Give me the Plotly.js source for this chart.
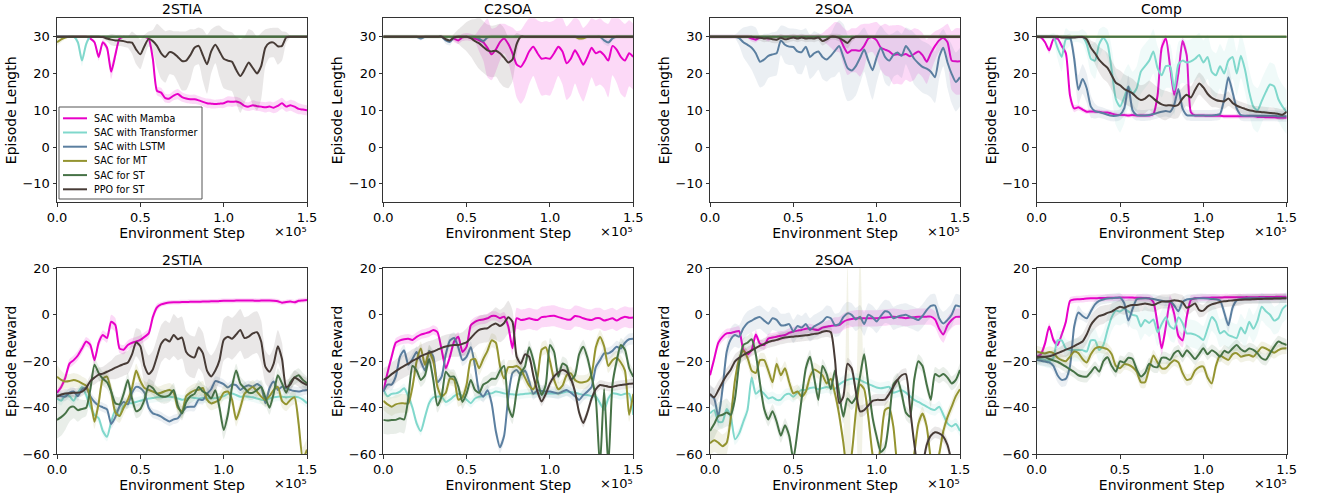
<!DOCTYPE html>
<html><head><meta charset="utf-8">
<script src="https://cdn.plot.ly/plotly-3.0.1.min.js"></script>
<style>html,body{margin:0;padding:0;background:#fff;}#chart{width:1322px;height:497px;}</style>
</head><body><div id="chart"></div>
<script>
// ---------- shared data ----------
const steps = [0,0.025,0.05,0.075,0.1,0.125,0.15,0.175,0.2,0.225,
 0.25,0.275,0.3,0.325,0.35,0.375,0.4,0.425,0.45,0.475,
 0.5,0.525,0.55,0.575,0.6,0.625,0.65,0.675,0.7,0.725,
 0.75,0.775,0.8,0.825,0.85,0.875,0.9,0.925,0.95,0.975,
 1,1.025,1.05,1.075,1.1,1.125,1.15,1.175,1.2,1.225,
 1.25,1.275,1.3,1.325,1.35,1.375,1.4,1.425,1.45,1.475,
 1.5];
const seriesNames = ['SAC with Mamba','SAC with Transformer','SAC with LSTM','SAC for MT','SAC for ST','PPO for ST'];
const seriesColors = ['#e800c8','#80d8cc','#5b7fa0','#949430','#467246','#473b36'];
const panelTitles = ['2STIA','C2SOA','2SOA','Comp'];
const xTickVals = [0,0.5,1.0,1.5];
const xTickText = ['0.0','0.5','1.0','1.5'];
const lenTicks = [-10,0,10,20,30];
const rewTicks = [-60,-40,-20,0,20];
const lenRange = [-15,35];
const rewRange = [-60,20];

// ---------- Episode Length : 2STIA ----------
const len_2STIA_mamba = [30,30,30,30,30,30,30,30,29.5,28.5,
 24.5,28.5,27,20.5,25,29.5,30,30,30,30,
 30,30,29.5,24,15.3,14.8,13.3,13.2,14,14.4,
 13.6,13.2,13,13,12.7,12.3,11.9,11.8,11.7,11.8,
 11.9,12.4,12.3,12.4,12,11.2,11,11.4,11.1,11,
 10.8,11,10.7,11.2,11.9,11,11.4,11,10.4,10.2,
 10];
const len_2STIA_mamba_sd = [0.3,0.3,0.3,0.3,0.3,0.3,0.3,0.3,0.3,0.5,
 1,0.8,1,2,1.5,0.3,0.3,0.3,0.3,0.3,
 0.3,0.3,0.5,1.5,1.2,1.3,1.2,1.2,1.3,1.4,
 1.3,1.2,1.2,1.3,1.2,1.2,1.3,1.3,1.2,1.2,
 1.3,1.4,1.4,1.3,1.3,1.2,1.2,1.3,1.3,1.3,
 1.4,1.4,1.5,1.6,1.5,1.4,1.5,1.6,1.5,1.4,
 1.4];
const len_2STIA_trans = [30,30,30,30,30,28.5,23.5,28,30,30,
 30,30,30,30,30,30,30,30,30,30,
 30,30,30,30,30,30,30,30,30,30,
 30,30,30,30,30,30,30,30,30,30,
 30,30,30,30,30,30,30,30,30,30,
 30,30,30,30,30,30,30,30,30,30,
 30];
const len_2STIA_trans_sd = [0.3,0.3,0.3,0.3,0.3,1,1.5,1,0.3,0.3,
 0.3,0.3,0.3,0.3,0.3,0.3,0.3,0.3,0.3,0.3,
 0.3,0.3,0.3,0.3,0.3,0.3,0.3,0.3,0.3,0.3,
 0.3,0.3,0.3,0.3,0.3,0.3,0.3,0.3,0.3,0.3,
 0.3,0.3,0.3,0.3,0.3,0.3,0.3,0.3,0.3,0.3,
 0.3,0.3,0.3,0.3,0.3,0.3,0.3,0.3,0.3,0.3,
 0.3];
const len_2STIA_lstm = [30,30,30,30,30,30,30,30,30,30,
 30,30,30,30,30,30,30,30,30,30,
 30,30,30,30,30,30,30,30,30,30,
 30,30,30,30,30,30,30,30,30,30,
 30,30,30,30,30,30,30,30,30,30,
 30,30,30,30,30,30,30,30,30,30,
 30];
const len_2STIA_lstm_sd = [0.3,0.3,0.3,0.3,0.3,0.3,0.3,0.3,0.3,0.3,
 0.3,0.3,0.3,0.3,0.3,0.3,0.3,0.3,0.3,0.3,
 0.3,0.3,0.3,0.3,0.3,0.3,0.3,0.3,0.3,0.3,
 0.3,0.3,0.3,0.3,0.3,0.3,0.3,0.3,0.3,0.3,
 0.3,0.3,0.3,0.3,0.3,0.3,0.3,0.3,0.3,0.3,
 0.3,0.3,0.3,0.3,0.3,0.3,0.3,0.3,0.3,0.3,
 0.3];
const len_2STIA_mt = [28.5,29.3,29.8,30,30,30,30,30,30,30,
 30,30,30,30,30,30,30,30,30,30,
 30,30,30,30,30,30,30,30,30,30,
 30,30,30,30,30,30,30,30,30,30,
 30,30,30,30,30,30,30,30,30,30,
 30,30,30,30,30,30,30,30,30,30,
 30];
const len_2STIA_mt_sd = [1,0.8,0.5,0.3,0.3,0.3,0.3,0.3,0.3,0.3,
 0.3,0.3,0.3,0.3,0.3,0.3,0.3,0.3,0.3,0.3,
 0.3,0.3,0.3,0.3,0.3,0.3,0.3,0.3,0.3,0.3,
 0.3,0.3,0.3,0.3,0.3,0.3,0.3,0.3,0.3,0.3,
 0.3,0.3,0.3,0.3,0.3,0.3,0.3,0.3,0.3,0.3,
 0.3,0.3,0.3,0.3,0.3,0.3,0.3,0.3,0.3,0.3,
 0.3];
const len_2STIA_st = [30,30,30,30,30,30,30,30,30,30,
 30,30,30,30,30,30,30,30,30,30,
 30,30,30,30,30,30,30,30,30,30,
 30,30,30,30,30,30,30,30,30,30,
 30,30,30,30,30,30,30,30,30,30,
 30,30,30,30,30,30,30,30,30,30,
 30];
const len_2STIA_st_sd = [0.3,0.3,0.3,0.3,0.3,0.3,0.3,0.3,0.3,0.3,
 0.3,0.3,0.3,0.3,0.3,0.3,0.3,0.3,0.3,0.3,
 0.3,0.3,0.3,0.3,0.3,0.3,0.3,0.3,0.3,0.3,
 0.3,0.3,0.3,0.3,0.3,0.3,0.3,0.3,0.3,0.3,
 0.3,0.3,0.3,0.3,0.3,0.3,0.3,0.3,0.3,0.3,
 0.3,0.3,0.3,0.3,0.3,0.3,0.3,0.3,0.3,0.3,
 0.3];
const len_2STIA_ppo = [30,30,30,30,30,30,30,30,30,30,
 30,29.9,29.5,29.2,29,29,28.8,28.5,28.4,26.5,
 25.2,27.5,29.4,28.8,27.5,25.5,24.5,25.8,25.5,24.5,
 23.4,23.5,25,27,27.5,25,22.5,26,27.8,26,
 24,23.5,23.2,21,19.3,21,23,21.5,20,22,
 27,28.3,28.4,27.4,27.5,29.8,30,30,30,30,
 30];
const len_2STIA_ppo_sd = [0.3,0.3,0.3,0.3,0.3,0.3,0.3,0.3,0.3,0.3,
 0.3,0.5,0.8,1.5,1.5,1.5,1.5,1.5,3,4,
 4,3,2,3,6,7,7,6,6,7,
 8,8,7,5,5,7,8,6,5,7,
 8,8,8,9,10,9,9,10,10,9,
 5,4,4,5,4,1.5,0.3,0.3,0.3,0.3,
 0.3];

// ---------- Episode Length : C2SOA ----------
const len_C2SOA_mamba = [30,30,30,30,30,30,30,30,30,30,
 30,30,30,30,30,30,30,29.5,29,29.8,
 30,29.8,29.5,29,28.5,27,25.2,26.5,28.5,29.5,
 28,25.5,22.5,21.8,23.5,26,27.3,25.5,24,24.2,
 24,25.5,27.3,26,22.8,24,26.3,24.5,22.4,24.5,
 27,25.5,26,25,23.5,27.5,26.5,24.5,23.5,25.5,
 24.5];
const len_C2SOA_mamba_sd = [0.3,0.3,0.3,0.3,0.3,0.3,0.3,0.3,0.3,0.3,
 0.3,0.3,0.3,0.3,0.3,0.3,0.3,1,1,1,
 1,1,1,3,5,8,7,6,5,4,
 5,7,9,10,10,9,8,9,10,10,
 10,9,8,9,10,10,9,10,10,9,
 8,9,9,9,10,8,9,10,10,9,
 9];
const len_C2SOA_trans = [30,30,30,30,30,30,30,30,30,30,
 30,30,30,30,30,30,30,30,30,30,
 30,30,30,30,30,30,30,30,30,30,
 30,30,30,30,30,30,30,30,30,30,
 30,30,30,30,30,30,30,30,30,30,
 30,30,30,30,30,30,30,30,30,30,
 30];
const len_C2SOA_trans_sd = [0.3,0.3,0.3,0.3,0.3,0.3,0.3,0.3,0.3,0.3,
 0.3,0.3,0.3,0.3,0.3,0.3,0.3,0.3,0.3,0.3,
 0.3,0.3,0.3,0.3,0.3,0.3,0.3,0.3,0.3,0.3,
 0.3,0.3,0.3,0.3,0.3,0.3,0.3,0.3,0.3,0.3,
 0.3,0.3,0.3,0.3,0.3,0.3,0.3,0.3,0.3,0.3,
 0.3,0.3,0.3,0.3,0.3,0.3,0.3,0.3,0.3,0.3,
 0.3];
const len_C2SOA_lstm = [30,30,30,30,30,30,30,30,30,29.5,
 30,30,30,30,30,29,28.6,29.8,30,30,
 30,30,30,29.5,28.8,29.8,30,30,30,30,
 30,30,30,30,30,30,30,30,30,30,
 30,30,30,30,30,30,30,30,30,30,
 30,30,30,29,28.4,29.5,30,30,30,30,
 30];
const len_C2SOA_lstm_sd = [0.5,0.5,0.5,0.5,0.5,0.5,0.5,0.5,0.5,0.5,
 0.5,0.5,0.5,0.5,0.5,1,1,0.5,0.5,0.5,
 0.5,0.5,0.5,1,1,0.5,0.5,0.5,0.5,0.5,
 0.5,0.5,0.5,0.5,0.5,0.5,0.5,0.5,0.5,0.5,
 0.5,0.5,0.5,0.5,0.5,0.5,0.5,0.5,0.5,0.5,
 0.5,0.5,0.5,1,1,0.5,0.5,0.5,0.5,0.5,
 0.5];
const len_C2SOA_mt = [30,30,30,30,30,30,30,30,30,30,
 30,30,30,30,30,30,30,30,30,30,
 30,30,30,30,30,30,30,30,30,30,
 30,30,30,30,30,30,30,30,30,30,
 30,30,30,30,30,30,30,29.5,29.6,30,
 30,30,30,30,30,30,30,30,30,30,
 30];
const len_C2SOA_mt_sd = [0.5,0.5,0.5,0.5,0.5,0.5,0.5,0.5,0.5,0.5,
 0.5,0.5,0.5,0.5,0.5,0.5,0.5,0.5,0.5,0.5,
 0.5,0.5,0.5,0.5,0.5,0.5,0.5,0.5,0.5,0.5,
 0.5,0.5,0.5,0.5,0.5,0.5,0.5,0.5,0.5,0.5,
 0.5,0.5,0.5,0.5,0.5,0.5,0.5,0.5,0.5,0.5,
 0.5,0.5,0.5,0.5,0.5,0.5,0.5,0.5,0.5,0.5,
 0.5];
const len_C2SOA_st = [30,30,30,30,30,30,30,30,30,30,
 30,30,30,30,30,30,30,30,30,30,
 30,30,30,30,30,30,30,30,30,30,
 30,30,30,30,30,30,30,30,30,30,
 30,30,30,30,30,30,30,30,30,30,
 30,30,30,30,30,30,30,30,30,30,
 30];
const len_C2SOA_st_sd = [0.3,0.3,0.3,0.3,0.3,0.3,0.3,0.3,0.3,0.3,
 0.3,0.3,0.3,0.3,0.3,0.3,0.3,0.3,0.3,0.3,
 0.3,0.3,0.3,0.3,0.3,0.3,0.3,0.3,0.3,0.3,
 0.3,0.3,0.3,0.3,0.3,0.3,0.3,0.3,0.3,0.3,
 0.3,0.3,0.3,0.3,0.3,0.3,0.3,0.3,0.3,0.3,
 0.3,0.3,0.3,0.3,0.3,0.3,0.3,0.3,0.3,0.3,
 0.3];
const len_C2SOA_ppo = [30,30,30,30,30,30,30,30,30,30,
 30,30,30,30,30,29.3,29,29.8,30,30,
 30,29.6,28.8,28.2,27.2,26.3,26,26.2,25.5,24.3,
 23,23.8,28,30,30,30,30,30,30,30,
 30,30,30,30,30,30,30,30,30,30,
 30,30,30,30,30,30,30,30,30,30,
 30];
const len_C2SOA_ppo_sd = [0.3,0.3,0.3,0.3,0.3,0.3,0.3,0.3,0.3,0.3,
 0.3,0.3,0.3,0.3,0.3,0.3,0.3,1,2,3,
 4,5,6,7,7,7,7,7,8,8,
 7,6,3,0.5,0.3,0.3,0.3,0.3,0.3,0.3,
 0.3,0.3,0.3,0.3,0.3,0.3,0.3,0.3,0.3,0.3,
 0.3,0.3,0.3,0.3,0.3,0.3,0.3,0.3,0.3,0.3,
 0.3];

// ---------- Episode Length : 2SOA ----------
const len_2SOA_mamba = [30,30,30,30,30,30,30,30,30,30,
 29.5,29.2,29.8,29.8,29.5,30,30,30,30,30,
 30,30,30,30,30,30,30,30,30,30,
 30,29.8,27.5,25.6,26.3,26.3,26.2,27.5,29.5,29.8,
 29,27,26.5,26,25.1,25.2,25,25.3,24.7,25.3,
 26,25,23.2,25.5,27.5,29,29.7,28.5,23.5,23.3,
 23.3];
const len_2SOA_mamba_sd = [0.5,0.5,0.5,0.5,0.5,0.5,0.5,0.5,0.5,0.5,
 0.8,0.8,0.5,0.5,0.8,0.5,0.5,0.5,0.5,0.5,
 0.5,0.5,0.5,0.5,0.5,0.5,0.5,1,2,3,
 4,4,5,6,6,6,7,6,4,4,
 5,6,7,7,8,8,8,7,7,7,
 6,6,6,5,4,3,3,5,8,9,
 9];
const len_2SOA_trans = [30,30,30,30,30,30,30,30,30,30,
 30,30,30,30,30,30,30,30,30,30,
 30,30,30,30,30,30,30,30,30,30,
 30,30,30,30,30,30,30,30,30,30,
 30,30,30,30,30,30,30,30,30,30,
 30,30,30,30,30,30,30,30,30,30,
 30];
const len_2SOA_trans_sd = [0.3,0.3,0.3,0.3,0.3,0.3,0.3,0.3,0.3,0.3,
 0.3,0.3,0.3,0.3,0.3,0.3,0.3,0.3,0.3,0.3,
 0.3,0.3,0.3,0.3,0.3,0.3,0.3,0.3,0.3,0.3,
 0.3,0.3,0.3,0.3,0.3,0.3,0.3,0.3,0.3,0.3,
 0.3,0.3,0.3,0.3,0.3,0.3,0.3,0.3,0.3,0.3,
 0.3,0.3,0.3,0.3,0.3,0.3,0.3,0.3,0.3,0.3,
 0.3];
const len_2SOA_lstm = [30,30,30,30,30,30,30,29.6,28.5,27.8,
 27,25.5,23.2,23.8,24.8,25.2,25.5,29,27.8,27.3,
 27.2,26,25.8,27.3,24.5,25.5,26,24.5,23.8,24.8,
 26.2,27.5,24.5,21.5,20.8,22,24.2,26.5,23.5,20.9,
 24.4,27,24.5,23.5,25,25.7,24.8,27.5,26,24,
 22.8,21.8,21.3,20.5,19,24.5,27,23,19.9,17.7,
 19];
const len_2SOA_lstm_sd = [0.5,0.5,0.5,0.5,0.5,0.5,0.5,2,4,5,
 6,7,7,7,6,6,6,4,5,5,
 5,6,6,5,6,6,5,6,6,6,
 7,7,9,9,8,8,7,6,7,8,
 7,6,7,7,6,6,6,5,6,7,
 7,7,7,7,7,6,5,7,8,8,
 8];
const len_2SOA_mt = [30,30,30,30,30,30,30,30,30,30,
 30,30,30,30,30,30,30,30,30,30,
 30,30,30,30,30,30,30,30,30,30,
 30,30,30,30,30,30,30,30,30,30,
 30,30,30,30,30,30,30,30,30,30,
 30,30,30,30,30,30,30,30,30,30,
 30];
const len_2SOA_mt_sd = [0.3,0.3,0.3,0.3,0.3,0.3,0.3,0.3,0.3,0.3,
 0.3,0.3,0.3,0.3,0.3,0.3,0.3,0.3,0.3,0.3,
 0.3,0.3,0.3,0.3,0.3,0.3,0.3,0.3,0.3,0.3,
 0.3,0.3,0.3,0.3,0.3,0.3,0.3,0.3,0.3,0.3,
 0.3,0.3,0.3,0.3,0.3,0.3,0.3,0.3,0.3,0.3,
 0.3,0.3,0.3,0.3,0.3,0.3,0.3,0.3,0.3,0.3,
 0.3];
const len_2SOA_st = [30,30,30,30,30,30,30,30,30,30,
 30,30,30,30,30,30,30,30,30,30,
 30,30,30,30,30,30,30,30,30,30,
 30,30,30,30,30,30,30,30,30,30,
 30,30,30,30,30,30,30,30,30,30,
 30,30,30,30,30,30,30,30,30,30,
 30];
const len_2SOA_st_sd = [0.3,0.3,0.3,0.3,0.3,0.3,0.3,0.3,0.3,0.3,
 0.3,0.3,0.3,0.3,0.3,0.3,0.3,0.3,0.3,0.3,
 0.3,0.3,0.3,0.3,0.3,0.3,0.3,0.3,0.3,0.3,
 0.3,0.3,0.3,0.3,0.3,0.3,0.3,0.3,0.3,0.3,
 0.3,0.3,0.3,0.3,0.3,0.3,0.3,0.3,0.3,0.3,
 0.3,0.3,0.3,0.3,0.3,0.3,0.3,0.3,0.3,0.3,
 0.3];
const len_2SOA_ppo = [30,30,30,30,30,30,30,30,30,30,
 30,29.8,29.7,29.5,29.6,29.3,29.2,29.7,29.3,29.5,
 29.8,29.5,29.8,29.5,29.6,29.5,29.8,28.8,29.3,30,
 30,29.7,29,28.3,29.5,30,30,30,30,30,
 30,30,30,30,30,30,30,30,30,30,
 30,30,30,30,30,30,30,30,30,30,
 30];
const len_2SOA_ppo_sd = [0.5,0.5,0.5,0.5,0.5,0.5,0.5,0.5,0.5,0.5,
 0.5,0.7,0.8,1,1,1,1,1,1,1,
 1,1,1,1,1,1,1,1.2,1,0.8,
 0.8,1,1.2,1.5,1,0.5,0.5,0.5,0.5,0.5,
 0.5,0.5,0.5,0.5,0.5,0.5,0.5,0.5,0.5,0.5,
 0.5,0.5,0.5,0.5,0.5,0.5,0.5,0.5,0.5,0.5,
 0.5];

// ---------- Episode Length : Comp ----------
const len_Comp_mamba = [30,29.8,28.5,26.3,29.3,29.5,27.5,25.5,14,10.5,
 10.8,10.2,9.6,9.7,9.6,9.6,9.4,9.4,9.1,8.8,
 8.7,8.7,8.6,8.7,8.6,8.6,8.6,8.6,9,14,
 27,29.5,22,14.2,20,28.8,25,9.5,8.6,8.6,
 8.6,8.5,8.5,8.5,8.5,8.4,8.4,8.4,8.4,8.4,
 8.4,8.4,8.4,8.2,8.2,8.1,8.1,8.1,8,8,
 8];
const len_Comp_mamba_sd = [0.3,0.3,0.5,1,0.5,0.3,0.5,1,2,1,
 0.8,0.7,0.6,0.6,0.6,0.6,0.6,0.6,0.6,0.6,
 0.6,0.6,0.6,0.6,0.6,0.6,0.6,0.6,0.8,2,
 2,1,2,2,2,1,2,1,0.6,0.6,
 0.6,0.6,0.6,0.6,0.6,0.6,0.6,0.6,0.6,0.6,
 0.6,0.6,0.6,0.6,0.6,0.6,0.6,0.6,0.6,0.6,
 0.6];
const len_Comp_trans = [30,30,30,30,30,27,24.5,29.3,29.5,30,
 30,30,28,24,23.5,28,29.7,28,21,13,
 11,13.5,16.5,14.5,16,20.5,22,23.5,26,21.5,
 19.5,22,22,15.5,22.5,23.5,23,23.3,24,25,
 23,24.5,20.5,19.5,22,20,23.5,24.5,20,24.8,
 21,15,11,10,12.5,15,17,16.5,13,11,
 9.5];
const len_Comp_trans_sd = [0.5,0.5,0.5,0.5,1,3,4,3,2,1.5,
 1.5,2,3,4,5,4,3,4,6,7,
 7,7,6,6,6,6,6,6,6,6,
 6,6,6,7,6,6,6,6,6,6,
 6,6,6,6,6,6,6,6,6,6,
 6,6,6,6,6,6,6,6,6,6,
 6];
const len_Comp_lstm = [30,30,30,30,30,30,30,30,29.8,24,
 15.6,18.5,16,11,9.8,9.5,9.2,8.8,8.5,8.5,
 8.8,10.5,16.5,10,8.7,8.6,8.6,8.7,9,9.3,
 9.6,9.8,9.6,11.5,15.8,10.5,8.7,8.6,8.6,8.6,
 8.6,8.6,8.6,8.7,9,13,19,15,10.5,8.7,
 8.5,8.5,8.5,8.5,8.5,8.5,8.5,8.5,8.4,8.4,
 8.4];
const len_Comp_lstm_sd = [0.5,0.5,0.5,0.5,0.5,0.5,0.5,0.5,1,3,
 4,4,4,3,2,1.5,1.5,1.5,1.5,1.5,
 1.5,2,3,2,1.5,1.5,1.5,1.5,1.5,1.5,
 1.5,1.5,1.5,2,3,2,1.5,1.5,1.5,1.5,
 1.5,1.5,1.5,1.5,1.5,2,3,2,1.5,1.5,
 1.5,1.5,1.5,1.5,1.5,1.5,1.5,1.5,1.5,1.5,
 1.5];
const len_Comp_mt = [30,30,30,30,30,30,30,30,30,30,
 30,30,30,30,30,30,30,30,30,30,
 30,30,30,30,30,30,30,30,30,30,
 30,30,30,30,30,30,30,30,30,30,
 30,30,30,30,30,30,30,30,30,30,
 30,30,30,30,30,30,30,30,30,30,
 30];
const len_Comp_mt_sd = [0.3,0.3,0.3,0.3,0.3,0.3,0.3,0.3,0.3,0.3,
 0.3,0.3,0.3,0.3,0.3,0.3,0.3,0.3,0.3,0.3,
 0.3,0.3,0.3,0.3,0.3,0.3,0.3,0.3,0.3,0.3,
 0.3,0.3,0.3,0.3,0.3,0.3,0.3,0.3,0.3,0.3,
 0.3,0.3,0.3,0.3,0.3,0.3,0.3,0.3,0.3,0.3,
 0.3,0.3,0.3,0.3,0.3,0.3,0.3,0.3,0.3,0.3,
 0.3];
const len_Comp_st = [30,30,30,30,30,30,30,30,30,30,
 30,30,30,30,30,30,30,30,30,30,
 30,30,30,30,30,30,30,30,30,30,
 30,30,30,30,30,30,30,30,30,30,
 30,30,30,30,30,30,30,30,30,30,
 30,30,30,30,30,30,30,30,30,30,
 30];
const len_Comp_st_sd = [0.3,0.3,0.3,0.3,0.3,0.3,0.3,0.3,0.3,0.3,
 0.3,0.3,0.3,0.3,0.3,0.3,0.3,0.3,0.3,0.3,
 0.3,0.3,0.3,0.3,0.3,0.3,0.3,0.3,0.3,0.3,
 0.3,0.3,0.3,0.3,0.3,0.3,0.3,0.3,0.3,0.3,
 0.3,0.3,0.3,0.3,0.3,0.3,0.3,0.3,0.3,0.3,
 0.3,0.3,0.3,0.3,0.3,0.3,0.3,0.3,0.3,0.3,
 0.3];
const len_Comp_ppo = [30,30,30,30,30,30,29.8,29.8,29.8,29.8,
 29.9,29.9,29.3,27,25.5,23.7,22.5,21.5,19.5,17.5,
 16.8,15.8,15.2,14.6,13.5,12.8,13.2,14.1,13.2,12.3,
 11.6,11.3,11.4,11.2,11.5,13.2,14.2,13.5,15.5,17.3,
 16.2,14.5,13.4,12.8,12.5,12.4,13.2,12,11.3,10.8,
 10.4,10,9.8,9.6,9.5,9.4,9.3,9.2,9,8.8,
 9.6];
const len_Comp_ppo_sd = [0.5,0.5,0.5,0.5,0.5,0.5,0.5,0.5,0.5,0.5,
 0.5,0.5,1,2,3,3.5,4,4,4,4,
 4,4,4,4,4,4,4,4,4,4,
 4,4,3.5,3.5,3.5,3,3,3,3,3,
 3,2.5,2.5,2,2,2,2,1.5,1.5,1.5,
 1.5,1.5,1.5,1.5,1.5,1.5,1.5,1.5,1.5,1.5,
 1.5];

// ---------- Episode Reward : 2STIA ----------
const rew_2STIA_mamba = [-33.5,-31,-27,-21,-19.5,-17.5,-14.5,-11.5,-13,-19.5,
 -12,-8.7,-10,-3,-4.4,-14.4,-15,-13,-12,-11.5,
 -10.8,-9.5,-8,-1,3.2,4.5,5,5.3,5.4,5.4,
 5.5,5.5,5.6,5.6,5.6,5.7,5.7,5.8,5.8,5.9,
 6,6,6,6.1,6.1,6.1,6.1,6.1,6,6.1,
 6.1,6.1,6,5.8,5.2,5.5,5.7,5.4,6,6.2,
 6.4];
const rew_2STIA_mamba_sd = [1.5,1.5,2,2,2,2,2,2,2,2,
 2,2,2,3,3,2,2,2,2,2,
 2,2,2,2,1.5,1,1,1,1,1,
 1,1,1,1,1,1,1,1,1,1,
 1,1,1,1,1,1,1,1,1,1,
 1,1,1,1,1,1,1,1,1,1,
 1];
const rew_2STIA_trans = [-36,-37,-34.5,-35,-37,-33.5,-31,-34.5,-39.5,-43,
 -44.5,-50,-52.5,-46,-41,-43.5,-39,-38.2,-38,-37.5,
 -37,-36.5,-36,-35.8,-35.5,-35.5,-35.3,-35.2,-35.5,-36,
 -36.5,-36.2,-35.5,-35.8,-36,-35.8,-36,-35.8,-35.9,-35.5,
 -35,-34,-33.8,-34.5,-35.2,-35,-35.2,-35.5,-36,-36.5,
 -36.6,-36,-35.5,-35.2,-35.2,-35.5,-35.3,-35.2,-35.5,-36.5,
 -38];
const rew_2STIA_trans_sd = [2,2,2,2,2,2,2,2,2,2,
 2,2,2,2,2,2,2,2,2,2,
 2,2,2,2,2,2,2,2,2,2,
 2,2,2,2,2,2,2,2,2,2,
 2,2,2,2,2,2,2,2,2,2,
 2,2,2,2,2,2,2,2,2,2,
 2];
const rew_2STIA_lstm = [-34.5,-35,-35.2,-33.5,-33,-35,-32,-31.5,-35,-37.5,
 -39,-39.8,-40.7,-47,-44,-39.5,-37.5,-38.5,-33.5,-31,
 -31.5,-33.5,-40,-42.4,-43,-43.8,-45,-45.9,-45,-44.5,
 -42,-39.8,-39.5,-39.5,-36.5,-36.6,-34,-32,-28.5,-29,
 -29.8,-31.3,-30,-30.3,-32.3,-31,-30.3,-30.9,-29.8,-31,
 -38,-31.6,-28.7,-32.3,-30.9,-31.5,-32.3,-32.8,-33,-32.6,
 -32.3];
const rew_2STIA_lstm_sd = [2,2,2,2,2,2,2,2,2,2,
 2,2,2,2,2,2,2,2,2,2,
 2,2,2,2,2,2,2,2,2,2,
 2,2,2,2,2,2,2,2,2,2,
 2,2,2,2,2,2,2,2,2,2,
 2,2,2,2,2,2,2,2,2,2,
 2];
const rew_2STIA_mt = [-26.6,-28,-28.7,-28.5,-28,-28.5,-29.5,-30.5,-36,-46,
 -38,-27.5,-26.6,-33,-42,-43.5,-40,-36.6,-31.5,-24,
 -28.5,-31.5,-32.3,-33,-33.8,-33.5,-32.8,-32.3,-33.5,-40,
 -41.5,-35,-33.5,-32.5,-32.3,-31.5,-36.5,-38.1,-37.5,-36.6,
 -33.5,-33,-36.5,-45,-40,-34,-32.3,-31,-33,-35.2,
 -36.6,-35,-32.3,-31,-37,-38.5,-36.6,-35.5,-47,-62,
 -58];
const rew_2STIA_mt_sd = [5,4,3,3,3,3,3,3,3,3,
 3,3,3,3,3,3,3,3,3,3,
 3,3,3,3,3,3,3,3,3,3,
 3,3,3,3,3,3,3,3,3,3,
 3,3,3,3,3,3,3,3,3,3,
 3,3,3,3,3,3,3,3,5,5,
 5];
const rew_2STIA_st = [-45.2,-44,-42.4,-40,-39.5,-41,-40.5,-40,-32,-21.5,
 -25,-27.5,-29,-33,-38,-38.5,-34,-28,-36,-41.5,
 -40.5,-36.5,-30.5,-31.5,-34,-35,-35.2,-34.5,-32.3,-39,
 -42.4,-37.5,-35,-34,-31,-33,-34,-36,-32.5,-40,
 -49.5,-43,-31,-24,-29.5,-31.5,-33.5,-33.5,-32.3,-31,
 -35.5,-40,-33.8,-26,-29.5,-33.5,-29,-27,-26,-28,
 -29.5];
const rew_2STIA_st_sd = [8,8,7,6,5,5,4,3.5,3,3,
 3,3,3,3,3,3,3,3,3,3,
 3,3,3,3,3,3,3,3,3,3,
 3,3,3,3,3,3,3,3,3,3,
 4,4,3,3,3,3,3,3,3,3,
 3,3,3,3,3,3,3,3,3,3,
 3];
const rew_2STIA_ppo = [-35.2,-34.3,-33.8,-33.7,-33.5,-33.5,-33,-31.5,-28.5,-27,
 -25.7,-25.3,-24.5,-23.7,-22.7,-22,-21.2,-20.5,-17,-11.8,
 -13.5,-22,-25.5,-23.5,-18,-12.5,-10.5,-11.5,-8.7,-10.5,
 -9.8,-16,-17.8,-18.3,-14,-16.5,-24,-26.5,-24,-19.5,
 -10.8,-9.4,-10.3,-8.5,-6.5,-10,-9.4,-8,-7.5,-11.5,
 -22.3,-24.5,-21,-13.5,-19,-31,-30,-27,-28,-29.3,
 -30.2];
const rew_2STIA_ppo_sd = [2,2,2,2,2,2,2,2,2.5,3,
 3,3,3.5,4,5,5,5,5,5,6,
 7,8,8,8,8,8,8,8,9,9,
 9,9,9,9,9,9,9,9,9,9,
 9,9,9,9,9,9,9,9,9,9,
 7,7,7,7,7,3,3,3,3,3,
 3];

// ---------- Episode Reward : C2SOA ----------
const rew_C2SOA_mamba = [-33,-25,-18,-12,-11,-10.5,-10.3,-10.8,-9.5,-8.5,
 -8,-7.5,-6.5,-7.5,-15,-23,-18,-11.5,-9.4,-16,
 -13.7,-4.5,-3,-2.3,-2,-1.5,-0.5,-0.5,-1.5,-0.8,
 -5,-14.4,-1.5,-2.2,-2,-1.5,-2,-2.2,-1,-0.8,
 -0.5,-0.4,-1,-1.5,-2,-2,-0.5,-0.8,-1.5,-2,
 -2.2,-1.5,-1.5,-2.5,-2,-1.5,-2.5,-1.5,-0.8,-1.3,
 -1.2];
const rew_C2SOA_mamba_sd = [2,2,2,2,2,2,2,2,2,2,
 2,2,2,2,2,2,2,2,2,2,
 2,2,2,2,2,2,2,2,2,2,
 2.5,3,4.5,4.5,4.5,4.5,4.5,4.5,4.5,4.5,
 4.5,4.5,4.5,4.5,4.5,4.5,4.5,4.5,4.5,4.5,
 4.5,4.5,4.5,4.5,4.5,4.5,4.5,4.5,4.5,4.5,
 4.5];
const rew_C2SOA_trans = [-32,-35,-34,-33.8,-33,-31.6,-35,-40,-46.7,-50,
 -44,-38,-35.5,-35.2,-35.2,-37.5,-36.5,-35,-34,-35,
 -36.5,-38,-36,-35.2,-35,-34,-33.8,-33,-33.3,-33.8,
 -34,-34.2,-34.5,-34.2,-34,-33.8,-33.8,-33.8,-33.8,-33.8,
 -33.8,-33.8,-33.8,-33.5,-33,-33.2,-33.5,-34,-34.5,-34.5,
 -35,-35.2,-38,-40.9,-36,-33.8,-34,-34.5,-34,-34,
 -43];
const rew_C2SOA_trans_sd = [2,2,2,2,2,2,2,2,2,2,
 2,2,2,2,2,2,2,2,2,2,
 2,2,2,2,2,2,2,2,2,2,
 2,2,2,2,2,2,2,2,2,2,
 2,2,2,2,2,2,2,2,2,2,
 2,2,2,2,2,2,2,2,2,2,
 2];
const rew_C2SOA_lstm = [-33,-30,-30,-26.5,-18,-15.3,-21.5,-19,-16,-20,
 -24,-15.5,-18,-29,-26.6,-17,-11,-10,-14,-19.5,
 -18,-14,-22,-33,-35.2,-32.5,-38,-50,-57,-52,
 -35.2,-25,-23.7,-25.9,-24,-28.5,-34,-32.5,-32.8,-33,
 -33,-33.4,-33.8,-33,-32.3,-33.5,-35,-36.6,-34.5,-33,
 -31,-22.5,-19.5,-16.6,-16.6,-15.5,-13.7,-14.5,-12,-10.5,
 -10.3];
const rew_C2SOA_lstm_sd = [2.5,2.5,2.5,2.5,2.5,2.5,2.5,2.5,2.5,2.5,
 2.5,2.5,2.5,2.5,2.5,2.5,2.5,2.5,2.5,2.5,
 2.5,2.5,2.5,2.5,2.5,2.5,2.5,2.5,2.5,2.5,
 2.5,2.5,2.5,2.5,2.5,2.5,2.5,2.5,2.5,2.5,
 2.5,2.5,2.5,2.5,2.5,2.5,2.5,2.5,2.5,2.5,
 2.5,2.5,2.5,2.5,2.5,2.5,2.5,2.5,2.5,2.5,
 2.5];
const rew_C2SOA_mt = [-37,-38.5,-39.5,-38.5,-38.1,-38.1,-38.1,-31,-20,-14.5,
 -21.5,-16,-20,-31,-35,-33.5,-27.4,-28,-36.5,-35.5,
 -30,-19.5,-19,-23,-19,-15.5,-11,-12,-22,-27.4,
 -22.5,-22.5,-22,-23.5,-27,-30.5,-32,-27,-15,-14,
 -20,-28,-32,-30.5,-26,-25.2,-28,-29,-29,-28.5,
 -25.5,-14,-9.5,-13.5,-22,-19.5,-18.5,-20.5,-24,-43,
 -34];
const rew_C2SOA_mt_sd = [4,4,4,4,4,4,4,3,3,3,
 3,3,3,3,3,3,3,3,3,3,
 3,3,3,3,3,3,3,3,3,3,
 3,3,3,3,3,3,3,3,3,3,
 3,3,3,3,3,3,3,3,3,3,
 3,3,3,3,3,3,3,3,3,3,
 3];
const rew_C2SOA_st = [-45.2,-45.5,-45.3,-45.2,-44.5,-45,-36,-22,-24,-28,
 -26,-19,-28,-39,-35,-24.5,-26.6,-26.6,-30.9,-37.5,
 -33.8,-28,-32.3,-33.5,-30,-29,-27.5,-27.5,-24,-22,
 -39.5,-44,-33,-25,-22.3,-14,-19.4,-28,-34.5,-30,
 -13,-16,-26.6,-21,-22,-28,-26,-17,-13.7,-18.5,
 -26.6,-36,-65,-32,-65,-30,-20,-13,-15,-23,
 -26.6];
const rew_C2SOA_st_sd = [6,6,6,6,6,6,5,3,3,3,
 3,3,3,3,3,3,3,3,3,3,
 3,3,3,3,3,3,3,3,3,3,
 3,3,3,3,3,3,3,3,3,3,
 3,3,3,3,3,3,3,3,3,3,
 3,3,3,3,3,3,3,3,3,3,
 3];
const rew_C2SOA_ppo = [-28,-27,-25.5,-24.2,-23,-22,-21,-19.8,-19,-17.8,
 -17,-16.3,-15.8,-15,-14.2,-13.6,-13.2,-13,-13,-12.5,
 -11.8,-10,-8,-6.5,-6,-5.8,-4.5,-3.7,-4.8,-3.5,
 -1,-3,-18,-21,-17,-18,-26,-33,-37.3,-34,
 -29.5,-26.5,-24.8,-23.7,-24.5,-27.5,-33,-42,-46.5,-42,
 -36,-32,-30.2,-30.5,-30.9,-31,-30.5,-30.2,-30,-29.7,
 -29.5];
const rew_C2SOA_ppo_sd = [5,5,5,5,5,5,5,5,5,5,
 5,5,5,5,5,5,5,5,5,5,
 6,6,6,6,6,6,6,7,7,7,
 7,5,3,2,2,2,2,2,2,2,
 2,2,2,2,2,2,2,2,2,2,
 2,2,2,2,2,2,2,2,2,2,
 2];

// ---------- Episode Reward : 2SOA ----------
const rew_2SOA_mamba = [-26,-19,-12,-9.5,-8,-7.8,-7.3,-7,-15,-17,
 -15,-8.5,-12.5,-13,-10.2,-9.8,-9.4,-9,-8.7,-7.8,
 -7.2,-6.8,-6.5,-6,-5.8,-6.3,-6.5,-5.5,-5.1,-4.8,
 -4.6,-4.4,-3,-2.2,-1.8,-1.5,-1.5,-1.5,-1.5,-1.5,
 -1.5,-1.3,-1.2,-1,-0.8,-1,-1.2,-1.5,-1.2,-1,
 -0.8,-0.8,-0.8,-0.8,-2,-6,-8.5,-4.5,-2.2,-0.9,
 -0.8];
const rew_2SOA_mamba_sd = [2,2,2,2,2,2,2,2,2,2,
 2,2,2,2,2,2,2,2,2,2,
 2,2,2,2,2,2,2,2,2.5,3,
 3.5,3.5,3.5,3.5,3.5,3.5,3.5,3.5,3.5,3.5,
 3.5,3.5,3.5,3.5,3.5,3.5,3.5,3.5,3.5,3.5,
 3.5,3.5,3.5,3.5,3.5,3.5,3.5,3.5,3.5,3.5,
 3.5];
const rew_2SOA_trans = [-42.4,-41,-46,-46,-40.5,-44,-53.5,-51,-46,-41,
 -27,-34,-32.5,-34,-36,-35.5,-36.6,-36.5,-34.5,-34,
 -35.2,-33.5,-32.3,-32.3,-31.5,-31.3,-32,-31.5,-31,-31.5,
 -31.8,-30,-28.7,-28,-27.5,-27.5,-28,-29,-29.8,-30.5,
 -31.3,-31.6,-31.3,-31,-33.5,-33,-32.5,-33.5,-35,-36.6,
 -37.5,-38.5,-39.5,-40.5,-40.9,-39.5,-43,-46.7,-48,-47,
 -50];
const rew_2SOA_trans_sd = [2.5,2.5,2.5,2.5,2.5,2.5,2.5,2.5,2.5,2.5,
 2.5,2.5,2.5,2.5,2.5,2.5,2.5,2.5,2.5,2.5,
 2.5,2.5,2.5,2.5,2.5,2.5,2.5,2.5,2.5,2.5,
 2.5,2.5,2.5,2.5,2.5,2.5,2.5,2.5,2.5,2.5,
 2.5,2.5,2.5,2.5,2.5,2.5,2.5,2.5,2.5,2.5,
 2.5,2.5,2.5,2.5,2.5,2.5,2.5,2.5,2.5,2.5,
 2.5];
const rew_2SOA_lstm = [-34.5,-36,-43.8,-32,-16,-10.5,-8.7,-9.4,-5.8,-3.5,
 -2.5,-1.5,-1,-2.5,-3.8,-1.5,-2.2,-4.5,-4.5,-4,
 -7.2,-4.8,-5.5,-4,-6.5,-5,-4,-2.9,-1,-1.5,
 -4.5,-4,-1,0.6,0,-2,-0.8,-4,0,-1,
 -2.9,-0.5,1.5,1,-1.5,-0.8,-0.3,0,-0.8,-1.5,
 -2.2,-0.5,2,3.8,4,-1.5,-3.7,-2.2,0,4,
 3.5];
const rew_2SOA_lstm_sd = [4,4,4,4,4,5,5,5,5,5,
 5,5,5,5,5,5,5,5,5,5,
 5,5,5,5,5,5,5,5,5,5,
 5,5,5,5,5,5,5,5,5,5,
 5,5,5,5,5,5,5,5,5,5,
 5,5,5,5,5,5,5,5,5,5,
 5];
const rew_2SOA_mt = [-55.3,-54,-55,-56.5,-55,-44,-28,-19,-15.5,-18.5,
 -24,-25,-19.5,-19.5,-24,-29,-21,-26,-23,-29,
 -33.8,-33,-35.2,-33,-26.6,-23.5,-24.5,-26,-29.5,-27.5,
 -34,-43,-55,-68,-60,-42,-30,-32,-44,-60,
 -68,-55,-41,-40,-48,-65,-70,-70,-68,-60,
 -47,-42.5,-48,-62,-68,-60,-50,-44,-39.5,-35,
 -32];
const rew_2SOA_mt_sd = [5,5,5,5,5,4,3,3,3,3,
 3,3,3,3,3,3,3,3,3,3,
 3,3,3,3,3,3,3,3,3,3,
 3,3,3,90,3,3,60,3,3,3,
 3,3,3,3,3,3,3,3,3,3,
 3,3,3,3,3,3,3,3,3,3,
 3];
const rew_2SOA_st = [-50,-47,-43.5,-43,-42,-43,-36,-21,-13,-12,
 -10.5,-17,-29.5,-40.5,-45,-41.5,-46,-52,-47.5,-52,
 -62,-50,-36,-23,-18,-27,-36.6,-22,-25.5,-32,
 -24,-33.8,-43.8,-36,-38,-35.5,-26.6,-17,-30,-44,
 -52.4,-59,-57,-45,-30,-28,-34,-42,-43.8,-28,
 -20,-22,-30,-36.6,-25.5,-26.5,-25.5,-27,-29.5,-28,
 -23.7];
const rew_2SOA_st_sd = [6,6,6,6,6,5,3,3,3,3,
 3,3,3,3,3,3,3,3,3,3,
 3,3,3,3,3,3,3,3,3,3,
 3,3,3,3,3,3,3,3,3,3,
 3,3,3,3,3,3,3,3,3,3,
 3,3,3,3,3,3,3,3,3,3,
 3];
const rew_2SOA_ppo = [-34,-35.5,-32.5,-29,-26,-23.5,-20,-18.5,-17.3,-16.3,
 -15.3,-14.3,-13.3,-12.5,-11.7,-11.2,-10.8,-10.2,-9.8,-9.5,
 -9.4,-9.2,-9,-8.8,-8.6,-8.2,-8,-7.3,-7,-7.5,
 -19.4,-38,-35.2,-21,-23,-33,-41.5,-41,-39,-37,
 -36.6,-36.6,-36.5,-34,-31,-28,-26,-25.5,-40,-55,
 -66,-64,-56,-52,-50.5,-51,-52.4,-56,-63,-68,
 -70];
const rew_2SOA_ppo_sd = [4,4,4,3,3,3,3,3,2.5,2.5,
 2.5,2.5,2.5,2.5,2.5,2.5,2.5,2.5,2.5,2.5,
 2.5,2.5,2.5,2.5,2.5,2.5,2.5,2.5,2.5,2.5,
 2.5,2.5,2.5,2.5,2.5,2.5,2.5,2.5,2.5,2.5,
 2.5,2.5,2.5,2.5,2.5,2.5,2.5,2.5,2.5,2.5,
 2.5,2.5,2.5,2.5,2.5,2.5,2.5,2.5,2.5,2.5,
 2.5];

// ---------- Episode Reward : Comp ----------
const rew_Comp_mamba = [-18,-17,-12.3,-5,-10.8,-13,-8.5,-3,6,6.6,
 6.7,6.8,7,7.1,7.1,7.2,7.2,7.3,7.3,7.3,
 7.4,7.4,7.4,7.4,7.3,7.3,7.2,7.1,5.5,-4,
 -14.4,-5,5.5,0.5,-9,-11,-1,6.4,7.1,7.2,
 7.3,7.3,7.4,7.4,7.4,7.5,7.5,7.5,7.5,7.5,
 7.6,7.6,7.6,7.6,7.7,7.7,7.7,7.7,7.8,7.8,
 7.8];
const rew_Comp_mamba_sd = [1.5,1.5,1.5,1.5,1.5,1.5,1.5,1.5,1.5,1.5,
 1.5,1.5,1.5,1.5,1.5,1.5,1.5,1.5,1.5,1.5,
 1.5,1.5,1.5,1.5,1.5,1.5,1.5,1.5,2,3,
 3,3,3,3,3,3,3,2,1.5,1.5,
 1.5,1.5,1.5,1.5,1.5,1.5,1.5,1.5,1.5,1.5,
 1.5,1.5,1.5,1.5,1.5,1.5,1.5,1.5,1.5,1.5,
 1.5];
const rew_Comp_trans = [-18.7,-19,-19.4,-20,-18.5,-11,-11,-14.5,-15.1,-15.1,
 -15.1,-15.2,-15.8,-11,-11,-15.1,-13,-6.5,-1,1.8,
 1.4,2.5,1.5,0,-0.5,-5,-2.2,-3.5,-2,-7.5,
 -4,-1,-5,-6,-1,-3.5,-8,-8,-8.5,-9.5,
 -10.8,-6,-1,-3,-8,-7,-8.7,-9.4,-10,-5.5,
 -8,-3,-6,-2.5,3.5,1.5,0,-2.5,-1.5,2.5,
 4.2];
const rew_Comp_trans_sd = [3,3,3,3,3,4,4,4,4,5,
 5,5,5,5,5,5,6,6,6,6,
 6,6,6,6,6,6,6,6,6,6,
 6,6,6,6,6,6,6,6,6,6,
 6,6,6,6,6,6,6,6,6,6,
 6,6,6,6,6,6,6,6,6,6,
 6];
const rew_Comp_lstm = [-19.4,-19.8,-20.1,-20.5,-22,-26,-28,-27.5,-22,-5,
 1,-0.5,-1.5,1.5,4.5,6,6.6,7,7.1,7.3,
 7.4,5,-2.5,2.5,6.7,7,7.1,7,6.8,6.4,
 6,5.7,5.7,4,1.5,5.5,6.6,6.8,7,7.1,
 7.1,7,6.8,6.7,6.2,1,-4.5,3,6.2,6.7,
 7,7.1,7.1,7.1,7.1,7.1,7.1,7.1,7.1,7.1,
 7.1];
const rew_Comp_lstm_sd = [2,2,2,2,2.5,3,3,3,3,3,
 3,2,2,2,2,2,2,2,2,2,
 2,2.5,3,2.5,2,2,2,2,2,2,
 2,2,2,2,2,2,2,2,2,2,
 2,2,2,2,2,2.5,3,2.5,2,2,
 2,2,2,2,2,2,2,2,2,2,
 2];
const rew_Comp_mt = [-15.8,-16.3,-16.6,-16,-16.5,-18.5,-19.5,-20,-18,-15.8,
 -16.5,-19,-20.5,-17,-14.5,-13.8,-14.2,-14.8,-17,-22,
 -23,-21.2,-21.5,-22.5,-24.5,-29,-29,-23,-17.5,-20.5,
 -23,-23,-21,-19.5,-20.5,-25,-28,-27.5,-24,-22.5,
 -22.3,-27,-29.5,-22,-17.5,-18.5,-19.4,-17,-16.5,-18,
 -17.5,-17.3,-18,-16,-14,-14.5,-15.5,-16.3,-15.2,-14.5,
 -14.4];
const rew_Comp_mt_sd = [2.5,2.5,2.5,2.5,2.5,2.5,2.5,2.5,2.5,2.5,
 2.5,2.5,2.5,2.5,2.5,2.5,2.5,2.5,2.5,2.5,
 2.5,2.5,2.5,2.5,2.5,2.5,2.5,2.5,2.5,2.5,
 2.5,2.5,2.5,2.5,2.5,2.5,2.5,2.5,2.5,2.5,
 2.5,2.5,2.5,2.5,2.5,2.5,2.5,2.5,2.5,2.5,
 2.5,2.5,2.5,2.5,2.5,2.5,2.5,2.5,2.5,2.5,
 2.5];
const rew_Comp_st = [-18.7,-18.3,-18.2,-19,-19.6,-20.2,-21.2,-22.3,-23.5,-24.6,
 -26,-26.5,-26.6,-24.6,-22.5,-24.5,-20,-18.3,-22,-24.5,
 -20,-20.5,-18.5,-19,-23.5,-26.5,-25,-21,-22.3,-22.5,
 -18.5,-18.5,-19.4,-16.5,-15.5,-18,-15.3,-17,-19,-16.8,
 -14.4,-17,-15.3,-16.3,-18,-15.5,-16.3,-14.5,-13,-14.8,
 -15.8,-14.5,-15.1,-16.6,-18.7,-19.3,-16.6,-13.7,-11.5,-12.3,
 -13];
const rew_Comp_st_sd = [2.5,2.5,2.5,2.5,2.5,2.5,2.5,2.5,2.5,2.5,
 2.5,2.5,2.5,2.5,2.5,2.5,2.5,2.5,2.5,2.5,
 2.5,2.5,2.5,2.5,2.5,2.5,2.5,2.5,2.5,2.5,
 2.5,2.5,2.5,2.5,2.5,2.5,2.5,2.5,2.5,2.5,
 2.5,2.5,2.5,2.5,2.5,2.5,2.5,2.5,2.5,2.5,
 2.5,2.5,2.5,2.5,2.5,2.5,2.5,2.5,2.5,2.5,
 2.5];
const rew_Comp_ppo = [-18,-18,-18,-17.8,-17.3,-16.5,-15.8,-15,-14.3,-13.5,
 -12.5,-11.5,-8.5,-4.4,-2,-0.5,0,0.8,1.4,2.5,
 3.5,3,3.8,4.2,4.2,4.5,4.9,4.5,4.2,5,
 5.7,5.7,5.8,6.3,6,5.5,3,3.8,4.9,2,
 1.8,3.5,4.5,5,5.5,5.8,6,6.2,6.4,6.5,
 6.6,6.6,6.7,6.8,6.8,6.9,6.9,7,7,7.1,
 7.1];
const rew_Comp_ppo_sd = [2,2,2,2,2,2,2.5,3,3,3,
 3,3.5,4,4,4,4,4,3.5,3.5,3,
 3,3,3,3,3,3,3,3,3,3,
 3,3,3,3,3,3,3,3,3,3,
 2.5,2.5,2.5,2.5,2.5,2.5,2.5,2.5,2.5,2.5,
 2,2,2,2,2,2,2,2,2,2,
 2];

// ---------- assemble panels ----------
const panels = [
 {title:panelTitles[0], ylab:'Episode Length', means:[len_2STIA_mamba,len_2STIA_trans,len_2STIA_lstm,len_2STIA_mt,len_2STIA_st,len_2STIA_ppo], sds:[len_2STIA_mamba_sd,len_2STIA_trans_sd,len_2STIA_lstm_sd,len_2STIA_mt_sd,len_2STIA_st_sd,len_2STIA_ppo_sd]},
 {title:panelTitles[1], ylab:'Episode Length', means:[len_C2SOA_mamba,len_C2SOA_trans,len_C2SOA_lstm,len_C2SOA_mt,len_C2SOA_st,len_C2SOA_ppo], sds:[len_C2SOA_mamba_sd,len_C2SOA_trans_sd,len_C2SOA_lstm_sd,len_C2SOA_mt_sd,len_C2SOA_st_sd,len_C2SOA_ppo_sd]},
 {title:panelTitles[2], ylab:'Episode Length', means:[len_2SOA_mamba,len_2SOA_trans,len_2SOA_lstm,len_2SOA_mt,len_2SOA_st,len_2SOA_ppo], sds:[len_2SOA_mamba_sd,len_2SOA_trans_sd,len_2SOA_lstm_sd,len_2SOA_mt_sd,len_2SOA_st_sd,len_2SOA_ppo_sd]},
 {title:panelTitles[3], ylab:'Episode Length', means:[len_Comp_mamba,len_Comp_trans,len_Comp_lstm,len_Comp_mt,len_Comp_st,len_Comp_ppo], sds:[len_Comp_mamba_sd,len_Comp_trans_sd,len_Comp_lstm_sd,len_Comp_mt_sd,len_Comp_st_sd,len_Comp_ppo_sd]},
 {title:panelTitles[0], ylab:'Episode Reward', means:[rew_2STIA_mamba,rew_2STIA_trans,rew_2STIA_lstm,rew_2STIA_mt,rew_2STIA_st,rew_2STIA_ppo], sds:[rew_2STIA_mamba_sd,rew_2STIA_trans_sd,rew_2STIA_lstm_sd,rew_2STIA_mt_sd,rew_2STIA_st_sd,rew_2STIA_ppo_sd]},
 {title:panelTitles[1], ylab:'Episode Reward', means:[rew_C2SOA_mamba,rew_C2SOA_trans,rew_C2SOA_lstm,rew_C2SOA_mt,rew_C2SOA_st,rew_C2SOA_ppo], sds:[rew_C2SOA_mamba_sd,rew_C2SOA_trans_sd,rew_C2SOA_lstm_sd,rew_C2SOA_mt_sd,rew_C2SOA_st_sd,rew_C2SOA_ppo_sd]},
 {title:panelTitles[2], ylab:'Episode Reward', means:[rew_2SOA_mamba,rew_2SOA_trans,rew_2SOA_lstm,rew_2SOA_mt,rew_2SOA_st,rew_2SOA_ppo], sds:[rew_2SOA_mamba_sd,rew_2SOA_trans_sd,rew_2SOA_lstm_sd,rew_2SOA_mt_sd,rew_2SOA_st_sd,rew_2SOA_ppo_sd]},
 {title:panelTitles[3], ylab:'Episode Reward', means:[rew_Comp_mamba,rew_Comp_trans,rew_Comp_lstm,rew_Comp_mt,rew_Comp_st,rew_Comp_ppo], sds:[rew_Comp_mamba_sd,rew_Comp_trans_sd,rew_Comp_lstm_sd,rew_Comp_mt_sd,rew_Comp_st_sd,rew_Comp_ppo_sd]}
];

// ---------- geometry (pixels) ----------
const W = 1322, H = 497;
const px = v => v / W, py = v => 1 - v / H;
const colLeft = [57, 383.3, 710, 1036.7], colRight = [307, 633.3, 960, 1286.7];
const rowTop = [18.3, 268.3], rowBottom = [202.3, 454.3];
const FONT = 'DejaVu Sans, sans-serif';
const bandAlpha = [0.15, 0.12, 0.12, 0.12, 0.12, 0.12];

function rgba(hex, a) {
  const n = parseInt(hex.slice(1), 16);
  return 'rgba(' + ((n >> 16) & 255) + ',' + ((n >> 8) & 255) + ',' + (n & 255) + ',' + a + ')';
}

const traces = [];
const layout = {
  width: W, height: H, margin: {l: 0, r: 0, t: 0, b: 0},
  paper_bgcolor: '#ffffff', plot_bgcolor: '#ffffff', showlegend: false,
  font: {family: FONT, size: 13, color: '#000'},
  annotations: [], shapes: []
};

panels.forEach((p, k) => {
  const r = k < 4 ? 0 : 1, c = k % 4;
  const sfx = k === 0 ? '' : String(k + 1);
  const xa = 'x' + sfx, ya = 'y' + sfx;
  p.means.forEach((m, s) => {
    const sd = p.sds[s];
    const lo = m.map((v, i) => v - sd[i]);
    const hi = m.map((v, i) => v + sd[i]);
    const col = seriesColors[s];
    traces.push({x: steps, y: lo, xaxis: xa, yaxis: ya, mode: 'lines', hoverinfo: 'skip', showlegend: false,
      line: {width: 0, color: col, shape: 'spline', smoothing: 0.6}});
    traces.push({x: steps, y: hi, xaxis: xa, yaxis: ya, mode: 'lines', hoverinfo: 'skip', showlegend: false,
      fill: 'tonexty', fillcolor: rgba(col, bandAlpha[s]), line: {width: 0, color: col, shape: 'spline', smoothing: 0.6}});
    traces.push({x: steps, y: m, xaxis: xa, yaxis: ya, mode: 'lines', name: seriesNames[s], showlegend: false,
      line: {width: 2, color: col, shape: 'spline', smoothing: 0.6}});
  });
  const common = {showline: true, linecolor: '#333', linewidth: 1, mirror: true, ticks: 'outside', ticklen: 3.5,
    tickwidth: 1, tickcolor: '#333', showgrid: false, zeroline: false, fixedrange: true,
    tickfont: {family: FONT, size: 13, color: '#000'}};
  layout['xaxis' + sfx] = Object.assign({}, common, {domain: [px(colLeft[c]), px(colRight[c])], anchor: ya,
    range: [0, 1.5], tickmode: 'array', tickvals: xTickVals, ticktext: xTickText,
    title: {text: 'Environment Step', font: {family: FONT, size: 14, color: '#000'}, standoff: 0}});
  layout['yaxis' + sfx] = Object.assign({}, common, {domain: [py(rowBottom[r]), py(rowTop[r])], anchor: xa,
    range: r ? rewRange : lenRange, tickmode: 'array', tickvals: r ? rewTicks : lenTicks,
    title: {text: p.ylab, font: {family: FONT, size: 14, color: '#000'}, standoff: 2}});
  const cx = (colLeft[c] + colRight[c]) / 2;
  // subplot title
  layout.annotations.push({xref: 'paper', yref: 'paper', x: px(cx), y: py(r ? 260 : 9), xanchor: 'center', yanchor: 'middle',
    text: p.title, showarrow: false, font: {family: FONT, size: 14, color: '#000'}});
  // x10^5 offset text, placed just below the last tick label
  layout.annotations.push({xref: 'paper', yref: 'paper', x: px(colRight[c] + 1), y: py(rowBottom[r] + 21), xanchor: 'right', yanchor: 'top',
    borderpad: 0, text: '×10⁵', showarrow: false, font: {family: FONT, size: 13, color: '#000'}});
});

// ---------- legend (inside first panel) ----------
layout.shapes.push({type: 'rect', xref: 'paper', yref: 'paper', x0: px(59), x1: px(202), y0: py(199), y1: py(107),
  fillcolor: 'rgba(255,255,255,0.85)', line: {color: '#555', width: 1}, layer: 'above'});
seriesNames.forEach((name, s) => {
  const yc = 118.3 + s * 14.2;
  layout.shapes.push({type: 'line', xref: 'paper', yref: 'paper', x0: px(63), x1: px(87), y0: py(yc), y1: py(yc),
    line: {color: seriesColors[s], width: 2}, layer: 'above'});
  layout.annotations.push({xref: 'paper', yref: 'paper', x: px(92), y: py(yc), xanchor: 'left', yanchor: 'middle',
    text: name, showarrow: false, font: {family: FONT, size: 9.6, color: '#000'}});
});

Plotly.newPlot('chart', traces, layout, {displayModeBar: false, staticPlot: true});
</script>
</body></html>
